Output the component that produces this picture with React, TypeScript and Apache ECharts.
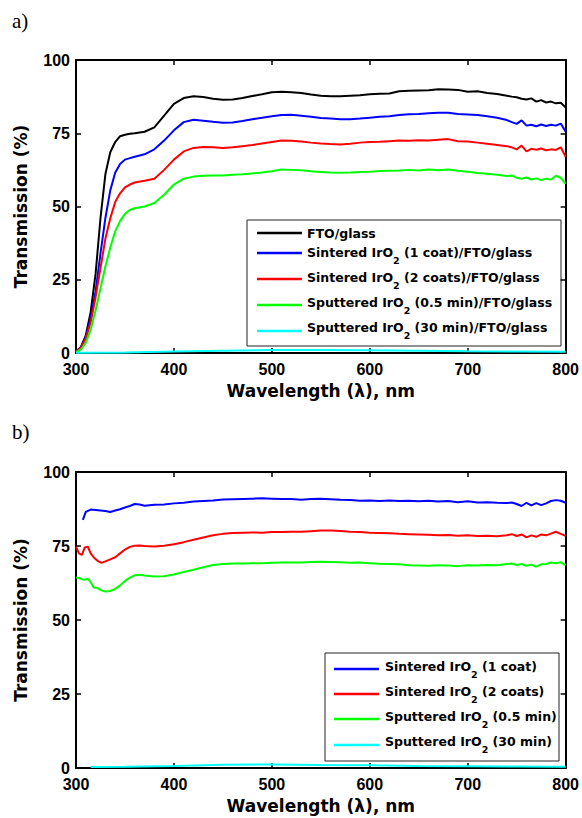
import React, { useEffect, useRef } from "react";
import * as echarts from "echarts";

// ---------- Panel a data ----------
const waveA = [
  300, 305, 310, 315, 320, 325, 330, 335, 340, 345, 350, 355, 360, 370,
  380, 390, 400, 410, 420, 430, 440, 450, 460, 470, 480, 490, 500, 510, 520, 530, 540, 550,
  560, 570, 580, 590, 600, 610, 620, 630, 640, 650, 660, 670, 680, 690, 700, 710, 720, 730, 740,
  745, 750, 755, 760, 765, 770, 775, 780, 785, 790, 795, 800,
];
const ftoA = [
  0.5, 2, 6, 14, 27, 46, 61, 68.5, 72, 74, 74.5, 74.8, 75, 75.5,
  77, 81, 85, 87, 87.6, 87.4, 86.8, 86.4, 86.5, 87, 87.7, 88.3, 89, 89.2, 89, 88.7, 88.2, 87.8,
  87.6, 87.6, 87.8, 88, 88.3, 88.5, 88.6, 89.3, 89.5, 89.6, 89.7, 90, 89.9, 89.8, 89.2, 89.3, 88.7, 88.4, 87.8,
  87.5, 87.3, 86.8, 86.5, 86.9, 85.8, 86.3, 85.5, 85.8, 85.2, 85.4, 83.8,
];
const sint1A = [
  0.5, 2, 5.5, 12, 21, 34, 46, 55.5, 61.5, 64.5, 66, 66.5, 67, 67.8,
  69.5, 72.5, 76, 78.8, 79.6, 79.3, 78.9, 78.6, 78.7, 79.2, 79.8, 80.3, 80.8, 81.2, 81.3, 81, 80.6, 80.2,
  80, 79.8, 79.8, 80, 80.3, 80.6, 80.8, 81.2, 81.5, 81.6, 81.8, 82, 82, 81.6, 81.4, 81.2, 80.8, 80.3, 79.5,
  78.8, 78.2, 79.4, 77.6, 77.9, 77.4, 78, 77.5, 77.9, 77.6, 78.3, 75.5,
];
const sint2A = [
  0.5, 1.8, 5, 10.5, 19, 29, 39, 46, 51.5, 54.5, 56.5, 57.5, 58.2, 58.8,
  59.5, 62.5, 66, 68.8, 70, 70.3, 70.2, 70, 70.2, 70.6, 71, 71.5, 72, 72.5, 72.4, 72.2, 71.8, 71.5,
  71.3, 71.2, 71.4, 71.8, 72, 72.1, 72.3, 72.5, 72.4, 72.6, 72.5, 72.8, 73, 72.3, 72.2, 71.8, 71.4, 71, 70.6,
  70.2, 69.5, 70.8, 68.8, 69.7, 69.4, 69.8, 69.2, 69.5, 69.3, 70.2, 67,
];
const sput05A = [
  0.3, 1.2, 3.5, 8, 14.5, 22, 29.5, 36, 41.5, 45, 47.5, 48.8, 49.4, 50,
  51.2, 54, 57.5, 59.5, 60.2, 60.5, 60.6, 60.6, 60.8, 61, 61.3, 61.6, 62, 62.6, 62.5, 62.4, 62, 61.8,
  61.6, 61.5, 61.6, 61.8, 61.9, 62.1, 62.2, 62.3, 62.5, 62.3, 62.6, 62.4, 62.6, 62.2, 61.9, 61.4, 61.2, 60.8, 60.4,
  60.6, 59.8, 59.5, 59.9, 59.2, 59.6, 59, 59.5, 59.2, 60.5, 59.8, 57.7,
];
const waveCyanA = [300, 350, 400, 450, 500, 550, 600, 650, 700, 750, 800];
const sput30A = [0.1, 0.2, 0.5, 0.8, 1.0, 1.0, 0.9, 0.8, 0.6, 0.5, 0.4];

// ---------- Panel b data ----------
const waveBlueB = [
  307, 310, 315, 320, 325, 330, 335, 340, 345, 350, 355, 360, 365, 370,
  380, 390, 400, 410, 420, 430, 440, 450, 460, 470, 480, 490, 500, 510, 520, 530, 540, 550,
  560, 570, 580, 590, 600, 610, 620, 630, 640, 650, 660, 670, 680, 690, 700, 710, 720, 730, 740,
  745, 750, 755, 760, 765, 770, 775, 780, 785, 790, 795, 800,
];
const sint1B = [
  83.8, 86.5, 87.3, 87.2, 87, 86.8, 86.5, 87, 87.4, 88, 88.5, 89.2, 89, 88.6,
  88.9, 89, 89.4, 89.6, 90, 90.2, 90.4, 90.7, 90.8, 90.9, 91, 91.1, 91, 90.9, 90.9, 90.6, 90.9, 91,
  90.8, 90.6, 90.5, 90.3, 90.4, 90.2, 90.4, 90.2, 90.3, 90.1, 90.3, 90.0, 90.2, 89.8, 90.1, 89.7, 89.8, 89.6, 89.5,
  89.7, 89.2, 88.5, 89.6, 88.7, 89.5, 88.8, 89.4, 90.2, 90.5, 90.3, 89.6,
];
const waveB = [
  300, 303, 306, 309, 312, 315, 318, 322, 326, 330, 335, 340, 345, 350, 355, 360, 365, 370,
  380, 390, 400, 410, 420, 430, 440, 450, 460, 470, 480, 490, 500, 510, 520, 530, 540, 550,
  560, 570, 580, 590, 600, 610, 620, 630, 640, 650, 660, 670, 680, 690, 700, 710, 720, 730, 740,
  745, 750, 755, 760, 765, 770, 775, 780, 785, 790, 795, 800,
];
const sint2B = [
  74.8, 72.5, 72, 74.5, 74.8, 72.5, 71.2, 70, 69.3, 69.8, 70.5, 71.2, 72.5, 73.8, 74.7, 75.1, 75.2, 75,
  74.8, 75.1, 75.6, 76.3, 77.1, 77.9, 78.6, 79.1, 79.4, 79.5, 79.6, 79.5, 79.7, 79.7, 79.8, 79.8, 80, 80.2,
  80.2, 80.1, 79.8, 79.7, 79.5, 79.4, 79.3, 79.1, 79, 78.9, 78.8, 78.6, 78.7, 78.5, 78.6, 78.4, 78.5, 78.3, 78.6,
  79, 78.4, 78.9, 77.9, 78.6, 78.1, 78.9, 78.6, 79.2, 79.8, 79.1, 78.4,
];
const sput05B = [
  64.4, 64.2, 63.8, 63.6, 64, 62.8, 61, 60.8, 60, 59.6, 59.8, 60.5, 61.7, 63.2, 64.3, 65.1, 65.3, 65,
  64.7, 64.8, 65.4, 66.2, 67, 67.8, 68.6, 68.9, 69.1, 69.1, 69.2, 69.2, 69.3, 69.4, 69.4, 69.4, 69.6, 69.7,
  69.6, 69.5, 69.3, 69.4, 69.2, 69, 68.9, 68.8, 68.5, 68.4, 68.3, 68.5, 68.4, 68.2, 68.5, 68.4, 68.6, 68.5, 68.9,
  69.1, 68.6, 68.9, 68.3, 68.7, 68.0, 68.8, 68.9, 69.4, 69.2, 69.5, 68.5,
];
const waveCyanB = [315, 350, 400, 450, 500, 550, 600, 650, 700, 750, 800];
const sput30B = [0.3, 0.4, 0.7, 1.1, 1.2, 1.0, 0.9, 0.7, 0.6, 0.5, 0.4];

// ---------- Labels ----------
const namesA = [
  "FTO/glass",
  "Sintered IrO2 (1 coat)/FTO/glass",
  "Sintered IrO2 (2 coats)/FTO/glass",
  "Sputtered IrO2 (0.5 min)/FTO/glass",
  "Sputtered IrO2 (30 min)/FTO/glass",
];
const namesB = [
  "Sintered IrO2 (1 coat)",
  "Sintered IrO2 (2 coats)",
  "Sputtered IrO2 (0.5 min)",
  "Sputtered IrO2 (30 min)",
];
const colorsA = ["#000000", "#0000ff", "#ff0000", "#00ff00", "#00ffff"];
const colorsB = ["#0000ff", "#ff0000", "#00ff00", "#00ffff"];
const xTitle = "Wavelength (\u03bb), nm";
const yTitle = "Transmission (%)";

const pairs = (xs: number[], ys: number[]) => xs.map((x, i) => [x, ys[i]]);

const toRich = (name: string) => {
  const i = name.indexOf("IrO2");
  if (i < 0) return `{n|${name}}`;
  return `{n|${name.slice(0, i + 3)}}{s|2}{n|${name.slice(i + 4)}}`;
};

const tickFont = { fontFamily: "Liberation Sans", fontWeight: "bold", fontSize: 16, color: "#000" };
const titleFont = { fontFamily: "DejaVu Sans", fontWeight: "bold", fontSize: 17, color: "#000" };
const axLine = { show: true, onZero: false, lineStyle: { color: "#000", width: 2 } };
const axTick = { show: true, inside: true, length: 5, lineStyle: { color: "#000", width: 1.5 } };

function xAxes(gridIndex: number) {
  return [
    {
      type: "value", gridIndex, position: "bottom", min: 300, max: 800, interval: 100,
      axisLine: axLine, axisTick: axTick, splitLine: { show: false },
      axisLabel: { ...tickFont, margin: 8 },
      name: xTitle, nameLocation: "middle", nameGap: 29, nameTextStyle: titleFont,
    },
    {
      type: "value", gridIndex, position: "top", min: 300, max: 800, interval: 100,
      axisLine: axLine, axisTick: axTick, splitLine: { show: false }, axisLabel: { show: false },
    },
  ];
}
function yAxes(gridIndex: number) {
  return [
    {
      type: "value", gridIndex, position: "left", min: 0, max: 100, interval: 25,
      axisLine: axLine, axisTick: axTick, splitLine: { show: false },
      axisLabel: { ...tickFont, margin: 6 },
      name: yTitle, nameLocation: "middle", nameGap: 47, nameTextStyle: titleFont,
    },
    {
      type: "value", gridIndex, position: "right", min: 0, max: 100, interval: 25,
      axisLine: axLine, axisTick: axTick, splitLine: { show: false }, axisLabel: { show: false },
    },
  ];
}

const richStyles = {
  n: { fontFamily: "DejaVu Sans", fontWeight: "bold", fontSize: 12.5, lineHeight: 14, fill: "#000", verticalAlign: "middle" },
  s: { fontFamily: "DejaVu Sans", fontWeight: "bold", fontSize: 9.5, fill: "#000", padding: [16, 0, 0, 0], verticalAlign: "middle" },
};

function legend(
  box: { x: number; y: number; w: number; h: number },
  names: string[], colors: string[], lineX: [number, number], textX: number,
  lineYs: number[], textYs: number[]
) {
  const children: any[] = [
    { type: "rect", shape: { x: box.x, y: box.y, width: box.w, height: box.h }, style: { fill: "#fff", stroke: "#222", lineWidth: 1 } },
  ];
  names.forEach((nm, i) => {
    children.push({
      type: "line",
      shape: { x1: lineX[0], y1: lineYs[i], x2: lineX[1], y2: lineYs[i] },
      style: { stroke: colors[i], lineWidth: 2.5 },
    });
    children.push({
      type: "text", x: textX, y: textYs[i],
      style: { text: toRich(nm), rich: richStyles, verticalAlign: "middle", align: "left" },
    });
  });
  return { type: "group", z: 100, children };
}

export default function App() {
  const ref = useRef<HTMLDivElement>(null);
  useEffect(() => {
    const chart = echarts.init(ref.current!, null, { renderer: "svg" });
    const seriesA = [ftoA, sint1A, sint2A, sput05A].map((ys, i) => ({
      name: namesA[i], type: "line", xAxisIndex: 0, yAxisIndex: 0, showSymbol: false,
      data: pairs(waveA, ys), lineStyle: { color: colorsA[i], width: 2 }, itemStyle: { color: colorsA[i] },
    }));
    seriesA.push({
      name: namesA[4], type: "line", xAxisIndex: 0, yAxisIndex: 0, showSymbol: false,
      data: pairs(waveCyanA, sput30A), lineStyle: { color: colorsA[4], width: 2 }, itemStyle: { color: colorsA[4] },
    });
    const seriesB = [
      { ys: sint1B, xs: waveBlueB },
      { ys: sint2B, xs: waveB },
      { ys: sput05B, xs: waveB },
      { ys: sput30B, xs: waveCyanB },
    ].map((d, i) => ({
      name: namesB[i], type: "line", xAxisIndex: 2, yAxisIndex: 2, showSymbol: false,
      data: pairs(d.xs, d.ys), lineStyle: { color: colorsB[i], width: 2 }, itemStyle: { color: colorsB[i] },
    }));

    const option: any = {
      animation: false,
      backgroundColor: "#fff",
      grid: [
        { left: 76, top: 60, width: 490, height: 293 },
        { left: 76, top: 472, width: 490, height: 296 },
      ],
      xAxis: [...xAxes(0), ...xAxes(1)],
      yAxis: [...yAxes(0), ...yAxes(1)],
      series: [...seriesA, ...seriesB],
      graphic: [
        { type: "text", x: 12, y: 21, style: { text: "a)", fontFamily: "Liberation Serif", fontSize: 21, fill: "#000", verticalAlign: "middle" } },
        { type: "text", x: 12, y: 432, style: { text: "b)", fontFamily: "Liberation Serif", fontSize: 21, fill: "#000", verticalAlign: "middle" } },
        legend({ x: 247, y: 220, w: 314, h: 126 }, namesA, colorsA, [257, 302], 307,
          [233, 253, 279, 305, 331], [233, 252, 277, 302, 327]),
        legend({ x: 325, y: 653, w: 234, h: 108 }, namesB, colorsB, [334, 379], 385,
          [669, 694, 719, 745], [666, 691, 716.5, 741.5]),
      ],
    };
    chart.setOption(option);
    return () => chart.dispose();
  }, []);
  return (
    <div
      ref={ref}
      style={{ position: "fixed", left: 0, top: 0, width: 582, height: 818, background: "#fff" }}
    />
  );
}
